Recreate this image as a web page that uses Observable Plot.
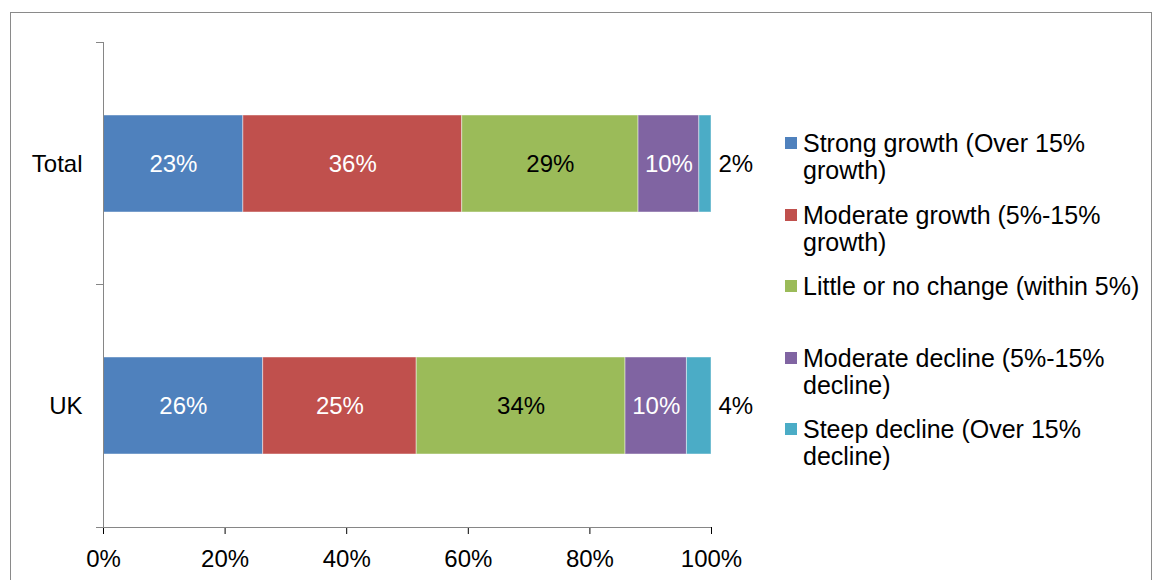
<!DOCTYPE html>
<html>
<head>
<meta charset="utf-8">
<script src="https://cdn.jsdelivr.net/npm/d3@7"></script>
<script src="https://cdn.jsdelivr.net/npm/@observablehq/plot@0.6"></script>
<style>
  html, body { margin: 0; padding: 0; background: #fff; }
  #wrap { position: relative; width: 1155px; height: 580px; overflow: hidden; font-family: "Liberation Sans", Arial, sans-serif; }
  #border { position: absolute; left: 10px; top: 12px; width: 1142px; height: 620px; border: 1px solid #8a8a8a; box-sizing: border-box; pointer-events: none; }
  #chart { position: absolute; left: 0; top: 0; }
  #legend { position: absolute; left: 785px; top: 130px; }
  .item { position: absolute; left: 0; width: 365px; }
  .swatch { position: absolute; left: 0; top: 7px; width: 12px; height: 12px; }
  .label { position: absolute; left: 18px; width: 350px; font-size: 25px; line-height: 27px; color: #000; }
</style>
</head>
<body>
<div id="wrap">
  <div id="chart"></div>
  <div id="legend"></div>
  <div id="border"></div>
</div>
<script>
// Survey groups, shown top to bottom
const categories = ["Total", "UK"];

// Expected change categories, in stacking order
const series = [
  "Strong growth (Over 15% growth)",
  "Moderate growth (5%-15% growth)",
  "Little or no change (within 5%)",
  "Moderate decline (5%-15% decline)",
  "Steep decline (Over 15% decline)"
];

// Share of respondents (%) per group, one value per series
const totalValues = [23, 36, 29, 10, 2];
const ukValues = [26, 25, 34, 10, 4];

// Tick values for the percentage axis
const xTicks = [0, 0.2, 0.4, 0.6, 0.8, 1];

// Palette for the series
const palette = ["#4F81BD", "#C0504D", "#9BBB59", "#8064A2", "#4BACC6"];

const valuesByCategory = {Total: totalValues, UK: ukValues};
const rows = [];
for (const category of categories) {
  series.forEach((s, i) => rows.push({category, series: s, index: i, value: valuesByCategory[category][i]}));
}

const pct = d => `${d.value}%`;
const lastSeries = series[series.length - 1];
const darkLabel = new Set([series[2]]);

const stackOpts = {x: "value", y: "category", offset: "normalize"};

const chart = Plot.plot({
  width: 770,
  height: 580,
  marginLeft: 103,
  marginRight: 59,
  marginTop: 42,
  marginBottom: 53,
  style: {fontFamily: "'Liberation Sans', Arial, sans-serif", fontSize: "24px", color: "#000", background: "transparent"},
  x: {
    domain: [0, 1],
    ticks: xTicks,
    tickFormat: d => `${Math.round(d * 100)}%`,
    tickSize: 7,
    tickPadding: 15,
    label: null
  },
  y: {
    domain: categories,
    paddingInner: 0.6,
    paddingOuter: 0.3,
    tickSize: 0,
    tickPadding: 21,
    label: null
  },
  color: {domain: series, range: palette},
  marks: [
    Plot.barX(rows, Plot.stackX({...stackOpts, fill: "series", stroke: "white", strokeOpacity: 0.45, strokeWidth: 1})),
    // labels inside the segments
    Plot.text(rows, Plot.stackX({
      ...stackOpts,
      text: d => d.series !== lastSeries && !darkLabel.has(d.series) ? pct(d) : null,
      fill: "white"
    })),
    Plot.text(rows, Plot.stackX({
      ...stackOpts,
      text: d => darkLabel.has(d.series) ? pct(d) : null,
      fill: "black"
    })),
    // the thin last segment is labelled just past the bar end
    Plot.text(rows, Plot.stackX2({
      ...stackOpts,
      text: d => d.series === lastSeries ? pct(d) : null,
      fill: "black",
      textAnchor: "start",
      dx: 7
    })),
    Plot.ruleX([0], {stroke: "#868686", strokeWidth: 1})
  ]
});

// axis lines: baseline under the bars and category boundary ticks on the left
{
  const xs = chart.scale("x");
  const ys = chart.scale("y");
  const x0 = xs.apply(0), x1 = xs.apply(1);
  const [r0, r1] = ys.range;
  const starts = categories.map(c => ys.apply(c));
  const bounds = [r0];
  for (let i = 1; i < starts.length; i++) bounds.push((starts[i - 1] + ys.bandwidth + starts[i]) / 2);
  bounds.push(r1);
  const g = d3.select(chart).append("g")
    .attr("stroke", "#868686")
    .attr("stroke-width", 1)
    .attr("shape-rendering", "crispEdges");
  g.append("line").attr("x1", x0).attr("x2", x1).attr("y1", r1).attr("y2", r1);
  for (const b of bounds) {
    g.append("line").attr("x1", x0 - 7).attr("x2", x0).attr("y1", b).attr("y2", b);
  }
}

document.getElementById("chart").appendChild(chart);

// legend to the right of the plot
const legend = d3.select("#legend");
series.forEach((s, i) => {
  const item = legend.append("div").attr("class", "item").style("top", `${i * 71.6}px`);
  item.append("div").attr("class", "swatch").style("background", palette[i]);
  item.append("div").attr("class", "label").text(s);
});
</script>
</body>
</html>
